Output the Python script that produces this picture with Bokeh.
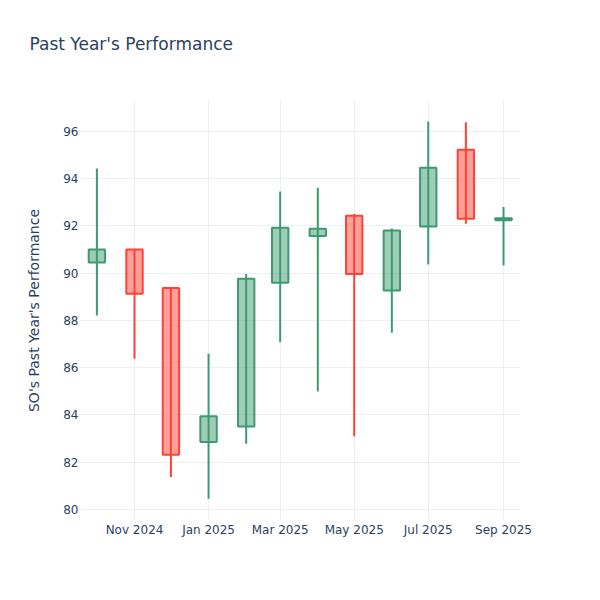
from datetime import datetime, timedelta
import pandas as pd
from bokeh.plotting import figure
from bokeh.models import Range1d, FixedTicker, DatetimeTickFormatter, ColumnDataSource
from bokeh.embed import file_html
from bokeh.resources import INLINE

# ---- data (monthly OHLC) ----
months = ["2024-10-01", "2024-11-01", "2024-12-01", "2025-01-01", "2025-02-01", "2025-03-01",
          "2025-04-01", "2025-05-01", "2025-06-01", "2025-07-01", "2025-08-01", "2025-09-01"]
open_ = [90.45, 91.00, 89.37, 82.85, 83.51, 89.60, 91.57, 92.43, 89.27, 91.98, 95.22, 92.24]
high = [94.43, 91.00, 89.37, 86.59, 89.97, 93.46, 93.62, 92.51, 91.89, 96.42, 96.39, 92.80]
low = [88.21, 86.38, 81.37, 80.45, 82.78, 87.08, 84.99, 83.09, 87.48, 90.37, 92.09, 90.33]
close = [91.00, 89.13, 82.31, 83.94, 89.76, 91.92, 91.88, 89.97, 91.81, 94.46, 92.30, 92.32]

tick_dates = ["2024-11-01", "2025-01-01", "2025-03-01", "2025-05-01", "2025-07-01", "2025-09-01"]
y_ticks = [80, 82, 84, 86, 88, 90, 92, 94, 96]

title_text = "Past Year's Performance"
y_label = "SO's Past Year's Performance"

INC = "#3D9970"
DEC = "#FF4136"
TXT = "#2a3f5f"
GRID = "#EBF0F8"
FONT = "DejaVu Sans"

df = pd.DataFrame({"date": pd.to_datetime(months), "open": open_, "high": high,
                   "low": low, "close": close})
df["top"] = df[["open", "close"]].max(axis=1)
df["bottom"] = df[["open", "close"]].min(axis=1)
inc = df[df.close >= df.open]
dec = df[df.close < df.open]

p = figure(width=584, height=584, output_backend="svg", toolbar_location=None,
           x_axis_type="datetime",
           x_range=Range1d(datetime(2024, 9, 17, 12), datetime(2025, 9, 15)),
           y_range=Range1d(79.53, 97.31),
           min_border_left=80, min_border_right=64, min_border_top=100, min_border_bottom=64,
           title=title_text + "\n")
p.outline_line_color = None
p.background_fill_color = "white"
p.border_fill_color = "white"

w = timedelta(days=13.5).total_seconds() * 1000

for d, col in ((inc, INC), (dec, DEC)):
    src = ColumnDataSource(d)
    p.segment(x0="date", y0="high", x1="date", y1="low", source=src, line_color=col, line_width=2)
    p.vbar(x="date", top="top", bottom="bottom", width=w, source=src,
           fill_color=col, fill_alpha=0.5, line_color=col, line_width=2)

tick_ms = [pd.Timestamp(t).value // 10**6 for t in tick_dates]
p.xaxis.ticker = FixedTicker(ticks=tick_ms)
p.xaxis.formatter = DatetimeTickFormatter(months="%b %Y", days="%b %Y", years="%b %Y")
p.yaxis.ticker = FixedTicker(ticks=y_ticks)

for ax in (p.xaxis[0], p.yaxis[0]):
    ax.axis_line_color = None
    ax.major_tick_line_color = None
    ax.minor_tick_line_color = None
    ax.major_tick_out = 0
    ax.major_tick_in = 0
    ax.minor_tick_out = 0
    ax.minor_tick_in = 0
    ax.major_label_text_color = TXT
    ax.major_label_text_font = FONT
    ax.major_label_text_font_size = "12px"
    ax.major_label_standoff = 2

p.yaxis.axis_label = y_label
p.yaxis.axis_label_text_font = FONT
p.yaxis.axis_label_text_font_size = "14px"
p.yaxis.axis_label_text_font_style = "normal"
p.yaxis.axis_label_text_color = TXT
p.yaxis.axis_label_standoff = 18

p.xgrid.grid_line_color = GRID
p.ygrid.grid_line_color = GRID
p.xgrid.grid_line_width = 1
p.ygrid.grid_line_width = 1

p.title.text_font = FONT
p.title.text_font_size = "17px"
p.title.text_font_style = "normal"
p.title.text_color = TXT
p.title.align = "left"
p.title.offset = -51
p.title.standoff = 54

open("out.html", "w").write(file_html(p, INLINE))
